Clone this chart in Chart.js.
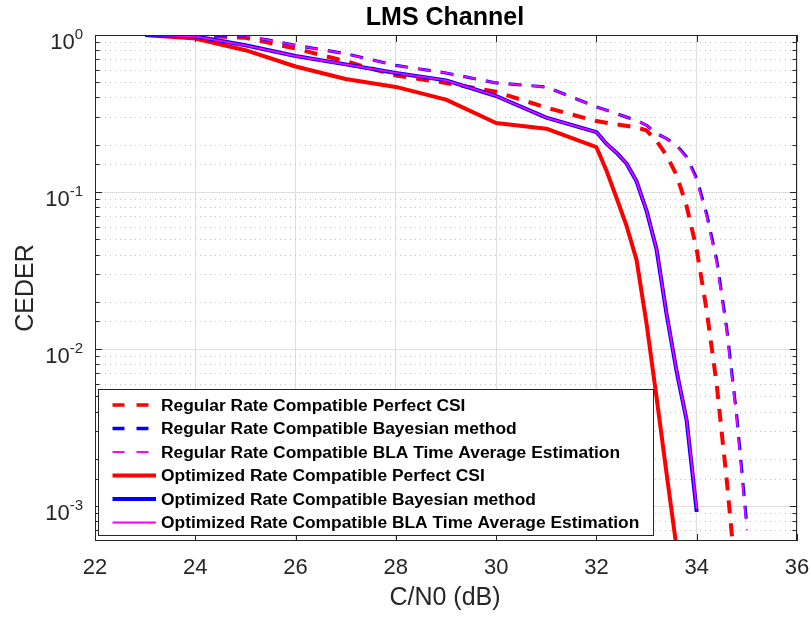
<!DOCTYPE html>
<html>
<head>
<meta charset="utf-8">
<script src="https://cdn.jsdelivr.net/npm/chart.js@4/dist/chart.umd.min.js"></script>
<style>
  html, body { margin: 0; padding: 0; background: #fff; }
  canvas { display: block; }
</style>
</head>
<body>
<canvas id="myChart" width="811" height="617"></canvas>
<script>
// C/N0 (dB) points and CEDER values
const cnRegPerfect = [23, 24, 25, 26, 27, 28, 29, 30, 31, 32, 32.4, 32.8, 33.0, 33.2, 33.4, 33.6, 33.8, 34.0, 34.2, 34.4, 34.6, 34.8];
const regPerfect   = [1.0, 0.995, 0.96, 0.82, 0.68, 0.553, 0.495, 0.435, 0.345, 0.283, 0.27, 0.258, 0.247, 0.211, 0.171, 0.128, 0.081, 0.043, 0.0175, 0.0059, 0.00145, 0.0003];

const cnRegBayes = [23, 24, 25, 26, 27, 28, 29, 30, 31, 32, 32.4, 32.6, 32.8, 33.0, 33.2, 33.4, 33.6, 33.8, 34.0, 34.2, 34.4, 34.6, 34.8, 35.0];
const regBayes   = [1.0, 1.0, 0.99, 0.86, 0.76, 0.64, 0.573, 0.495, 0.467, 0.348, 0.316, 0.30, 0.286, 0.266, 0.236, 0.219, 0.198, 0.167, 0.122, 0.072, 0.0367, 0.0134, 0.0037, 0.00075];
const regBLA     = [1.0, 1.0, 0.99, 0.86, 0.76, 0.64, 0.573, 0.495, 0.467, 0.348, 0.316, 0.30, 0.286, 0.266, 0.236, 0.219, 0.196, 0.164, 0.118, 0.069, 0.035, 0.0128, 0.0035, 0.0007];

const cnOptPerfect = [23, 24, 25, 26, 27, 28, 29, 30, 31, 32, 32.2, 32.4, 32.6, 32.8, 33.0, 33.2, 33.4, 33.6, 33.8];
const optPerfect   = [1.0, 0.95, 0.80, 0.63, 0.525, 0.467, 0.388, 0.275, 0.253, 0.193, 0.137, 0.092, 0.061, 0.037, 0.0145, 0.0049, 0.0016, 0.00054, 0.00018];

const cnOptBayes = [23, 24, 25, 26, 27, 28, 29, 30, 31, 32, 32.2, 32.4, 32.6, 32.8, 33.0, 33.2, 33.4, 33.6, 33.8, 34.0];
const optBayes   = [1.0, 0.98, 0.86, 0.735, 0.65, 0.573, 0.514, 0.409, 0.298, 0.241, 0.203, 0.178, 0.152, 0.117, 0.076, 0.043, 0.0166, 0.0072, 0.0035, 0.00092];
const optBLA     = [1.0, 0.98, 0.86, 0.735, 0.65, 0.573, 0.514, 0.409, 0.298, 0.241, 0.203, 0.178, 0.152, 0.117, 0.076, 0.043, 0.0166, 0.0072, 0.0035, 0.00096];

const seriesNames = [
    'Regular Rate Compatible Perfect CSI',
    'Regular Rate Compatible Bayesian method',
    'Regular Rate Compatible BLA Time Average Estimation',
    'Optimized Rate Compatible Perfect CSI',
    'Optimized Rate Compatible Bayesian method',
    'Optimized Rate Compatible BLA Time Average Estimation'
];

const xTicks = [22, 24, 26, 28, 30, 32, 34, 36];
const yTickExponents = [0, -1, -2, -3];

const FONT = '"Liberation Sans", Arial, Helvetica, sans-serif';

function pts(xs, ys) {
    return xs.map((x, i) => ({ x: x, y: ys[i] }));
}

function isDecade(v) {
    const l = Math.log10(v);
    return Math.abs(l - Math.round(l)) < 1e-6;
}

const matlabAxes = {
    id: 'matlabAxes',
    beforeDatasetsDraw(chart) {
        const { ctx, chartArea: a, scales: { y } } = chart;
        ctx.save();
        ctx.lineWidth = 1;
        y.ticks.forEach(t => {
            const py = Math.round(y.getPixelForValue(t.value)) + 0.5;
            if (py <= a.top + 1 || py >= a.bottom - 1) return;
            if (isDecade(t.value)) {
                ctx.setLineDash([]);
                ctx.strokeStyle = '#dedede';
            } else {
                ctx.setLineDash([1, 4]);
                ctx.strokeStyle = '#c4c4c4';
            }
            ctx.beginPath();
            ctx.moveTo(a.left, py);
            ctx.lineTo(a.right, py);
            ctx.stroke();
        });
        ctx.restore();
    },
    afterDatasetsDraw(chart) {
        const { ctx, chartArea: a, scales: { x, y } } = chart;
        ctx.save();
        ctx.strokeStyle = '#262626';
        ctx.lineWidth = 1;

        // inward ticks on y (both sides)
        y.ticks.forEach(t => {
            const py = Math.round(y.getPixelForValue(t.value)) + 0.5;
            if (py < a.top || py > a.bottom) return;
            const len = isDecade(t.value) ? 7 : 4.5;
            ctx.beginPath();
            ctx.moveTo(a.left, py); ctx.lineTo(a.left + len, py);
            ctx.moveTo(a.right, py); ctx.lineTo(a.right - len, py);
            ctx.stroke();
        });
        // inward ticks on x (top and bottom)
        xTicks.forEach(v => {
            const px = Math.round(x.getPixelForValue(v)) + 0.5;
            ctx.beginPath();
            ctx.moveTo(px, a.bottom); ctx.lineTo(px, a.bottom - 7);
            ctx.moveTo(px, a.top); ctx.lineTo(px, a.top + 7);
            ctx.stroke();
        });
        // box
        ctx.strokeRect(Math.round(a.left) + 0.5, Math.round(a.top) + 0.5,
            Math.round(a.right - a.left) - 1, Math.round(a.bottom - a.top) - 1);

        // x tick labels
        ctx.fillStyle = '#262626';
        ctx.font = '22px ' + FONT;
        ctx.textAlign = 'center';
        ctx.textBaseline = 'alphabetic';
        xTicks.forEach(v => {
            ctx.fillText(String(v), x.getPixelForValue(v), a.bottom + 33);
        });

        // y tick labels 10^n
        yTickExponents.forEach(e => {
            const py = y.getPixelForValue(Math.pow(10, e));
            ctx.font = '22px ' + FONT;
            const w1 = ctx.measureText('10').width;
            ctx.font = '15px ' + FONT;
            const sup = String(e);
            const w2 = ctx.measureText(sup).width;
            const right = a.left - 12;
            ctx.textAlign = 'left';
            ctx.font = '22px ' + FONT;
            ctx.fillText('10', right - w1 - w2, py + 14);
            ctx.font = '15px ' + FONT;
            ctx.fillText(sup, right - w2, py + 3.5);
        });

        // axis titles
        ctx.textAlign = 'center';
        ctx.font = '25px ' + FONT;
        ctx.fillText('C/N0 (dB)', (a.left + a.right) / 2 - 1, 605);
        ctx.save();
        ctx.translate(33, (a.top + a.bottom) / 2);
        ctx.rotate(-Math.PI / 2);
        ctx.fillText('CEDER', 0, 0);
        ctx.restore();

        // title
        ctx.fillStyle = '#000';
        ctx.font = 'bold 25px ' + FONT;
        ctx.fillText('LMS Channel', (a.left + a.right) / 2 - 1, 25);
        ctx.restore();
    },
    afterDraw(chart) {
        const { ctx } = chart;
        const box = { left: 98, top: 389, right: 654, bottom: 536 };
        ctx.save();
        ctx.fillStyle = '#fff';
        ctx.fillRect(box.left, box.top, box.right - box.left, box.bottom - box.top);
        ctx.strokeStyle = '#262626';
        ctx.lineWidth = 1;
        ctx.strokeRect(box.left + 0.5, box.top + 0.5, box.right - box.left - 1, box.bottom - box.top - 1);

        ctx.font = 'bold 17.4px ' + FONT;
        ctx.textAlign = 'left';
        ctx.textBaseline = 'middle';
        chart.data.datasets.forEach((ds, i) => {
            const cy = 405 + i * 23.5;
            ctx.strokeStyle = ds.borderColor;
            ctx.lineWidth = ds.legendWidth;
            ctx.setLineDash(ds.borderDash && ds.borderDash.length ? [12, 12] : []);
            ctx.beginPath();
            ctx.moveTo(112.5, cy);
            ctx.lineTo(156, cy);
            ctx.stroke();
            ctx.setLineDash([]);
            ctx.fillStyle = '#000';
            ctx.fillText(ds.label, 161, cy + 1);
        });
        ctx.restore();
    }
};

const ctx = document.getElementById('myChart');

new Chart(ctx, {
    type: 'line',
    data: {
        datasets: [
            { label: seriesNames[0], data: pts(cnRegPerfect, regPerfect), borderColor: '#ff0000', borderWidth: 4, borderDash: [13, 10], legendWidth: 3.5, order: 6 },
            { label: seriesNames[1], data: pts(cnRegBayes, regBayes), borderColor: '#0000ff', borderWidth: 3.2, borderDash: [13, 10], legendWidth: 3.5, order: 5 },
            { label: seriesNames[2], data: pts(cnRegBayes, regBLA), borderColor: '#ff00ff', borderWidth: 1.8, borderDash: [13, 10], legendWidth: 2, order: 4 },
            { label: seriesNames[3], data: pts(cnOptPerfect, optPerfect), borderColor: '#ff0000', borderWidth: 4, borderDash: [], legendWidth: 4, order: 3 },
            { label: seriesNames[4], data: pts(cnOptBayes, optBayes), borderColor: '#0000ff', borderWidth: 4, borderDash: [], legendWidth: 4, order: 2 },
            { label: seriesNames[5], data: pts(cnOptBayes, optBLA), borderColor: '#ff00ff', borderWidth: 1.8, borderDash: [], legendWidth: 2, order: 1 }
        ]
    },
    options: {
        responsive: false,
        animation: false,
        devicePixelRatio: 1,
        layout: { padding: { left: 95, right: 14, top: 35, bottom: 76 } },
        elements: {
            point: { radius: 0, hoverRadius: 0 },
            line: { tension: 0, fill: false, borderCapStyle: 'butt', borderJoinStyle: 'round' }
        },
        datasets: { line: { clip: 0 } },
        plugins: {
            legend: { display: false },
            tooltip: { enabled: false },
            title: { display: false }
        },
        scales: {
            x: {
                type: 'linear',
                min: 22,
                max: 36,
                ticks: { display: false, stepSize: 2 },
                grid: { color: '#dedede', drawTicks: false, lineWidth: 1 },
                border: { display: false }
            },
            y: {
                type: 'logarithmic',
                min: 6e-4,
                max: 1,
                ticks: { display: false },
                grid: { display: false, drawTicks: false },
                border: { display: false }
            }
        }
    },
    plugins: [matlabAxes]
});
</script>
</body>
</html>
